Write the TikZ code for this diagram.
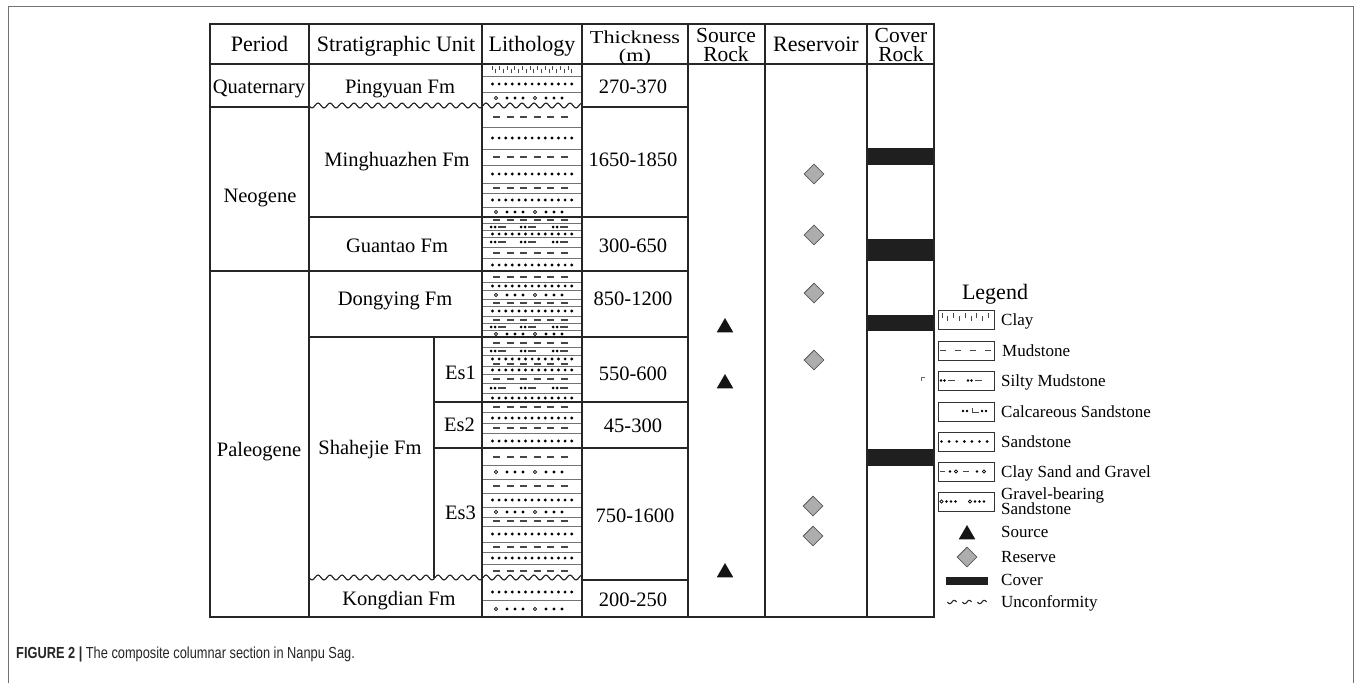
\documentclass[tikz,border=0pt]{standalone}
\usepackage{fontspec}
\setmainfont{Liberation Serif}
\newfontfamily\capfont[FakeStretch=0.8]{Liberation Sans}
\newfontfamily\wideserif[FakeStretch=1.22]{Liberation Serif}
\usetikzlibrary{shapes.geometric}

\newcommand\Lsand[1]{\foreach \ii in {0,...,12} {\fill[patc] (492.5+\ii*6.6,#1) circle (1.6);}}
\newcommand\Lmud[1]{\foreach \xx in {493,506.5,520,533.5,547,560.5} {\draw[patl] (\xx,#1) -- ++(7,0);}}
\newcommand\Lgrav[1]{\foreach \xx in {496,535} {\draw[patc,line width=0.7pt] (\xx,#1) circle (1.7);}\foreach \xx in {507,515,523,546,554,562} {\fill[patc] (\xx,#1) circle (1.6);}}
\newcommand\Lsilt[1]{\foreach \xx in {491,521,553} {\fill[patc] (\xx,#1) circle (1.5); \fill[patc] (\xx+4,#1) circle (1.5); \draw[patl] (\xx+7,#1) -- ++(8,0);}}
\newcommand\Lclay[1]{\foreach \ii in {0,...,21} {\pgfmathsetmacro\off{mod(\ii,2)*2.5}\draw[patl,line width=0.7pt] (492+\ii*3.8,#1-3+\off) -- ++(0,4);}}

\begin{document}
\begin{tikzpicture}[x=1pt,y=-1pt,
  tline/.style={line width=1.6pt, draw=black!85},
  lline/.style={line width=0.7pt, draw=black!55},
  patc/.style={black},
  patl/.style={line width=1.1pt, draw=black!72},
  wave/.style={line width=1.2pt, draw=black!85},
  hdr/.style={font=\fontsize{22}{22}\selectfont, inner sep=0pt, text height=14.5pt, text depth=0pt},
  hdrs/.style={font=\wideserif\fontsize{18.2}{18.2}\selectfont, inner sep=0pt, text height=12pt, text depth=0pt},
  hdrt/.style={font=\fontsize{21.5}{21.5}\selectfont, inner sep=0pt, text height=14pt, text depth=0pt},
  body/.style={font=\fontsize{20.5}{20.5}\selectfont, inner sep=0pt, text height=13.5pt, text depth=0pt},
  leg/.style={font=\fontsize{17}{17}\selectfont, inner sep=0pt, text height=11.2pt, text depth=0pt, anchor=west},
  resv/.style={diamond, draw=black!65, fill=black!32, line width=0.8pt, minimum width=20pt, minimum height=20pt, inner sep=0pt},
  srct/.style={regular polygon, regular polygon sides=3, fill=black!92, minimum size=19pt, inner sep=0pt},
  cover/.style={fill=black!88},
  lbox/.style={line width=1pt, draw=black!80}
]
\useasboundingbox (0,0) rectangle (1356,683);
\fill[white] (0,0) rectangle (1356,683);
% outer frame
\draw[black!55, line width=0.8pt] (8,683) -- (8,6) -- (1353,6) -- (1353,683);

% ---------------- lithology patterns ----------------
\Lclay{69}
\Lsand{84}
\Lgrav{98}
\Lmud{117}
\Lsand{138}
\Lmud{157}
\Lsand{174}
\Lmud{188}
\Lsand{200}
\Lgrav{212}
\Lmud{220}
\Lsilt{227}
\Lsand{234}
\Lsilt{242}
\Lmud{253}
\Lsand{265}
\Lmud{277}
\Lsand{286}
\Lgrav{295}
\Lmud{303}
\Lsand{311}
\Lmud{320}
\Lsilt{327}
\Lgrav{334}
\Lmud{343}
\Lsilt{351}
\Lsand{359}
\Lmud{364}
\Lsand{370}
\Lmud{379}
\Lsilt{388}
\Lsand{398}
\Lmud{407}
\Lsand{418}
\Lmud{428}
\Lsand{441}
\Lmud{457}
\Lgrav{472}
\Lmud{486}
\Lsand{500}
\Lgrav{512}
\Lmud{521}
\Lsand{534}
\Lmud{547}
\Lsand{558}
\Lmud{571}
\Lsand{592}
\Lgrav{609}
\foreach \yy in {76,92,127,149,165,183,193,207,223,230,237,247,258,282,290,299,306,316,323,330,347,355,366,374,383,393,412,423,433,465,479,493,507,517,526,542,552,564,600}
  {\draw[lline] (482,\yy) -- (582,\yy);}

% ---------------- cover rock bars ----------------
\fill[cover] (867,148) rectangle (934,165);
\fill[cover] (867,239) rectangle (934,261);
\fill[cover] (867,315) rectangle (934,331);
\fill[cover] (867,449) rectangle (934,466);
\draw[black!60, line width=0.6pt] (921,381) -- (921,377) -- (925,377);

% ---------------- table lines ----------------
\foreach \xx in {210,309,482,582,688,765,867,934} {\draw[tline] (\xx,24) -- (\xx,617);}
\draw[tline] (209.2,24) -- (934.8,24);
\draw[tline] (209.2,617) -- (934.8,617);
\draw[tline] (210,64) -- (934,64);
\draw[tline] (210,107) -- (309,107);
\draw[tline] (210,271) -- (309,271);
\draw[tline] (309,217) -- (688,217);
\draw[tline] (309,271) -- (688,271);
\draw[tline] (309,337) -- (688,337);
\draw[tline] (434,402) -- (688,402);
\draw[tline] (434,448) -- (688,448);
\draw[tline] (582,107) -- (688,107);
\draw[tline] (582,580) -- (688,580);
\draw[tline] (434,337) -- (434,578);
\draw[wave] plot[domain=0:273, samples=240] (309+\x, {105.5+2.4*sin(\x*30)});
\draw[wave] plot[domain=0:273, samples=240] (309+\x, {577.5+2.4*sin(\x*30)});

% ---------------- header ----------------
\node[hdr] (hPeriod) at (259.5,44) {Period};
\node[hdr] (hStrat) at (396,44) {Stratigraphic Unit};
\node[hdr] (hLith) at (532,44) {Lithology};
\node[hdrs] (hThick) at (635,37.5) {Thickness};
\node[hdrs] (hThickM) at (635,55.5) {(m)};
\node[hdrt] (hSrc) at (726,35.5) {Source};
\node[hdrt] (hSrcR) at (726,54.5) {Rock};
\node[hdr] (hRes) at (816,44) {Reservoir};
\node[hdrt] (hCov) at (901,35.5) {Cover};
\node[hdrt] (hCovR) at (901,54.5) {Rock};

% ---------------- body text ----------------
\node[body] (pQ) at (259,87) {Quaternary};
\node[body] (pN) at (260,196) {Neogene};
\node[body] (pP) at (259,450) {Paleogene};
\node[body] (uPing) at (400,87) {Pingyuan Fm};
\node[body] (uMing) at (397,160) {Minghuazhen Fm};
\node[body] (uGuan) at (397,246) {Guantao Fm};
\node[body] (uDong) at (395,299) {Dongying Fm};
\node[body] (uShah) at (370,448) {Shahejie Fm};
\node[body] (uEs1) at (460.5,373) {Es1};
\node[body] (uEs2) at (459.5,425) {Es2};
\node[body] (uEs3) at (460.5,513) {Es3};
\node[body] (uKong) at (399,599) {Kongdian Fm};
\node[body] (t1) at (633,87) {270-370};
\node[body] (t2) at (633,160) {1650-1850};
\node[body] (t3) at (633,246) {300-650};
\node[body] (t4) at (633,299) {850-1200};
\node[body] (t5) at (633,374) {550-600};
\node[body] (t6) at (633,426) {45-300};
\node[body] (t7) at (635,516) {750-1600};
\node[body] (t8) at (633,600) {200-250};

% ---------------- source rock / reservoir markers ----------------
\node[srct] (s1) at (725,327.5) {};
\node[srct] (s2) at (725,383.5) {};
\node[srct] (s3) at (725,572.5) {};
\node[resv] (r1) at (814,174) {};
\node[resv] (r2) at (814,235) {};
\node[resv] (r3) at (814,293) {};
\node[resv] (r4) at (814,360) {};
\node[resv] (r5) at (813,506) {};
\node[resv] (r6) at (813,536) {};

% ---------------- legend ----------------
\node[font=\fontsize{22}{22}\selectfont, inner sep=0pt, text height=14.5pt, text depth=0pt] (legT) at (995,292) {Legend};
% boxes
\foreach \yy in {310,341,371,402,432,462,492} {\draw[lbox] (938,\yy) rectangle (994,\yy+19);}
% clay
\foreach \ii in {0,...,8} {\pgfmathsetmacro\off{mod(\ii,2)*3}\draw[patl,line width=0.8pt] (942+\ii*5.8,313+\off) -- ++(0,5);}
% mudstone
\foreach \xx in {940,955,970,985} {\draw[patl] (\xx,350.5) -- ++(6,0);}
% silty mudstone
\foreach \xx in {941,968} {\fill[patc] (\xx,380.5) circle (1.3); \fill[patc] (\xx+3.5,380.5) circle (1.3); \draw[patl] (\xx+6.5,380.5) -- ++(7,0);}
% calcareous sandstone
\foreach \xx in {963,967,982,986} {\fill[patc] (\xx,411) circle (1.3);}
\draw[patl,line width=0.9pt] (972.5,407.5) -- (972.5,412.5) -- (979,412.5);
% sandstone
\foreach \ii in {0,...,6} {\fill[patc] (941.5+\ii*7.6,441.5) circle (1.45);}
% clay sand and gravel
\draw[patl] (940,471.5) -- ++(5,0);
\draw[patl] (963,471.5) -- ++(6,0);
\fill[patc] (950,471.5) circle (1.3); \fill[patc] (977,471.5) circle (1.3);
\draw[patc,line width=0.7pt] (956,471.5) circle (1.6);
\draw[patc,line width=0.7pt] (984,471.5) circle (1.6);
% gravel-bearing sandstone
\foreach \xx in {941.5,970} {\draw[patc,line width=0.7pt] (\xx,501.5) circle (1.6); \foreach \dd in {5,9.5,14} {\fill[patc] (\xx+\dd,501.5) circle (1.3);}}
% markers
\node[srct] (legS) at (967,534.5) {};
\node[resv] (legR) at (967,557) {};
\fill[cover] (946,577) rectangle (988,585);
\foreach \cx in {952,967,982} {\draw[line width=1.1pt, black!85] plot[domain=-4.5:4.5, samples=30] (\cx+\x, {602-1.7*sin(\x*40)});}
% labels
\node[leg] (lClay) at (1001,319.5) {Clay};
\node[leg] (lMud) at (1002,350.5) {Mudstone};
\node[leg] (lSilt) at (1001,381) {Silty Mudstone};
\node[leg] (lCalc) at (1001,412) {Calcareous Sandstone};
\node[leg] (lSand) at (1001,442) {Sandstone};
\node[leg] (lCSG) at (1001,472) {Clay Sand and Gravel};
\node[leg] (lGrav1) at (1001,494) {Gravel-bearing};
\node[leg] (lGrav2) at (1001,508.5) {Sandstone};
\node[leg] (lSrc) at (1001,532) {Source};
\node[leg] (lRes) at (1001,557) {Reserve};
\node[leg] (lCov) at (1001,580) {Cover};
\node[leg] (lUnc) at (1001,602) {Unconformity};

% ---------------- caption ----------------
\node[anchor=base west, inner sep=0pt, font=\capfont\fontsize{16}{16}\selectfont, text=black!85] (cap) at (16,658)
  {\textbf{FIGURE 2 |} The composite columnar section in Nanpu Sag.};
\end{tikzpicture}
\end{document}
